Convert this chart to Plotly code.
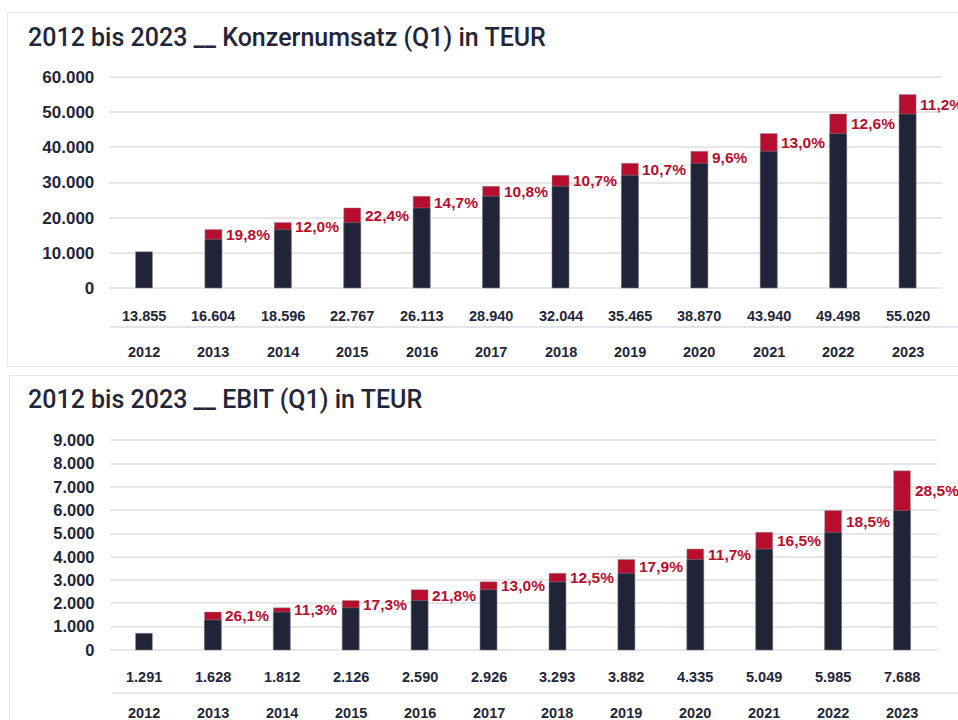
import plotly.graph_objects as go

# ---------------- data ----------------
years = ["2012", "2013", "2014", "2015", "2016", "2017", "2018", "2019", "2020", "2021", "2022", "2023"]

# Konzernumsatz (Q1) in TEUR
umsatz_values = [13855, 16604, 18596, 22767, 26113, 28940, 32044, 35465, 38870, 43940, 49498, 55020]
umsatz_base = [10300, 13855, 16604, 18596, 22767, 26113, 28940, 32044, 35465, 38870, 43940, 49498]
umsatz_total = [None, 16604, 18596, 22767, 26113, 28940, 32044, 35465, 38870, 43940, 49498, 55020]
umsatz_pct = [None, 19.8, 12.0, 22.4, 14.7, 10.8, 10.7, 10.7, 9.6, 13.0, 12.6, 11.2]

# EBIT (Q1) in TEUR
ebit_values = [1291, 1628, 1812, 2126, 2590, 2926, 3293, 3882, 4335, 5049, 5985, 7688]
ebit_base = [720, 1291, 1628, 1812, 2126, 2590, 2926, 3293, 3882, 4335, 5049, 5985]
ebit_total = [None, 1628, 1812, 2126, 2590, 2926, 3293, 3882, 4335, 5049, 5985, 7688]
ebit_pct = [None, 26.1, 11.3, 17.3, 21.8, 13.0, 12.5, 17.9, 11.7, 16.5, 18.5, 28.5]

title_umsatz = "2012 bis 2023 __ Konzernumsatz (Q1) in TEUR"
title_ebit = "2012 bis 2023 __ EBIT (Q1) in TEUR"

# ---------------- style ----------------
W, H = 958, 720
NAVY = "#1f2437"
RED = "#b70e2e"
TXT = "#22263a"
GRID = "#e6e6e8"
SEP = "#e2e6eb"
BORDER = "#e8e8e8"
FONT = "Liberation Sans, Arial, sans-serif"
TITLE_FONT = "Roboto, Liberation Sans, Arial, sans-serif"


def px_y(p):
    return 1 - p / H


def px_x(p):
    return p / W


def de_int(v):
    return f"{v:,}".replace(",", ".")


def de_pct(p):
    return f"{p:.1f}".replace(".", ",") + "%"


fig = go.Figure()

panels = [
    dict(xa="x", ya="y", base=umsatz_base, total=umsatz_total, vals=umsatz_values, pct=umsatz_pct,
         title=title_umsatz, title_y=37, vals_y=316, sep_y=327, years_y=352,
         xdom=(109.3, 942.3), yrange=[-1000, 61000], ypx=(288, 77), span=60000, dtick=10000,
         tickfs=17, sep_x0=110.5),
    dict(xa="x2", ya="y2", base=ebit_base, total=ebit_total, vals=ebit_values, pct=ebit_pct,
         title=title_ebit, title_y=399.5, vals_y=677, sep_y=693, years_y=713,
         xdom=(109.5, 936.5), yrange=[-150, 9150], ypx=(650, 440.3), span=9000, dtick=1000,
         tickfs=16.5, sep_x0=112),
]

annotations = []
shapes = []

# panel borders
shapes.append(dict(type="rect", xref="paper", yref="paper",
                   x0=px_x(7.5), x1=px_x(W + 20), y0=px_y(366.5), y1=px_y(12.5),
                   line=dict(color=BORDER, width=1), fillcolor="rgba(0,0,0,0)", layer="below"))
shapes.append(dict(type="rect", xref="paper", yref="paper",
                   x0=px_x(9.5), x1=px_x(W + 20), y0=px_y(H + 20), y1=px_y(375.5),
                   line=dict(color=BORDER, width=1), fillcolor="rgba(0,0,0,0)", layer="below"))

for k, p in enumerate(panels):
    sfx = "" if k == 0 else "2"
    fig.add_trace(go.Bar(x=years, y=p["total"], xaxis=p["xa"], yaxis=p["ya"],
                         marker=dict(color=RED, line=dict(color="rgba(150,150,160,0.55)", width=0.8)),
                         width=0.245, hoverinfo="skip", showlegend=False))
    fig.add_trace(go.Bar(x=years, y=p["base"], xaxis=p["xa"], yaxis=p["ya"],
                         marker=dict(color=NAVY, line=dict(color="rgba(150,150,160,0.55)", width=0.8)),
                         width=0.245, hoverinfo="skip", showlegend=False))

    # axis geometry
    y0px, y1px = p["ypx"]
    scale = (y0px - y1px) / p["span"]
    bot_px = y0px - p["yrange"][0] * scale
    top_px = y0px - p["yrange"][1] * scale
    fig.layout["xaxis" + sfx] = dict(domain=[px_x(p["xdom"][0]), px_x(p["xdom"][1])],
                                     anchor="y" + sfx, type="category", range=[-0.5, 11.5],
                                     showticklabels=False, showgrid=False, zeroline=False,
                                     showline=False, fixedrange=True, automargin=False)
    fig.layout["yaxis" + sfx] = dict(domain=[px_y(bot_px), px_y(top_px)], anchor="x" + sfx,
                                     range=p["yrange"], tick0=0, dtick=p["dtick"],
                                     tickformat=",d", showgrid=True, gridcolor=GRID, gridwidth=1.5,
                                     zeroline=True, zerolinecolor=GRID, zerolinewidth=1.5,
                                     showline=False, ticks="", ticklabelstandoff=14,
                                     tickfont=dict(family=FONT, size=p["tickfs"], color=TXT, weight="bold"),
                                     fixedrange=True, automargin=False)

    # title
    annotations.append(dict(xref="paper", yref="paper", x=px_x(26), y=px_y(p["title_y"]),
                            xanchor="left", yanchor="middle", showarrow=False, text=p["title"],
                            font=dict(family=TITLE_FONT, size=25, color=TXT, weight=500)))

    # value row + year row
    for i, yr in enumerate(years):
        annotations.append(dict(xref=p["xa"], yref="paper", x=i, y=px_y(p["vals_y"]),
                                xanchor="center", yanchor="middle", showarrow=False,
                                text="<b>" + de_int(p["vals"][i]) + "</b>",
                                font=dict(family=FONT, size=14.5, color=TXT)))
        annotations.append(dict(xref=p["xa"], yref="paper", x=i, y=px_y(p["years_y"]),
                                xanchor="center", yanchor="middle", showarrow=False,
                                text="<b>" + yr + "</b>",
                                font=dict(family=FONT, size=14.5, color=TXT)))
        if p["pct"][i] is not None:
            ymid = (p["base"][i] + p["total"][i]) / 2
            annotations.append(dict(xref=p["xa"], yref=p["ya"], x=i, y=ymid,
                                    xanchor="left", yanchor="middle", showarrow=False,
                                    xshift=10.5, text="<b>" + de_pct(p["pct"][i]) + "</b>",
                                    font=dict(family=FONT, size=15.5, color=RED)))

    # separator line between value row and years
    shapes.append(dict(type="line", xref="paper", yref="paper",
                       x0=px_x(p["sep_x0"]), x1=px_x(W + 5), y0=px_y(p["sep_y"]), y1=px_y(p["sep_y"]),
                       line=dict(color=SEP, width=2)))

fig.update_layout(
    width=W, height=H, margin=dict(l=0, r=0, t=0, b=0, autoexpand=False),
    paper_bgcolor="white", plot_bgcolor="white",
    barmode="overlay", separators=",.",
    annotations=annotations, shapes=shapes,
    font=dict(family=FONT, color=TXT),
)

fig.write_html("out.html", config={"displayModeBar": False},
               post_script="document.body.style.margin='0';document.body.style.overflow='hidden';")
